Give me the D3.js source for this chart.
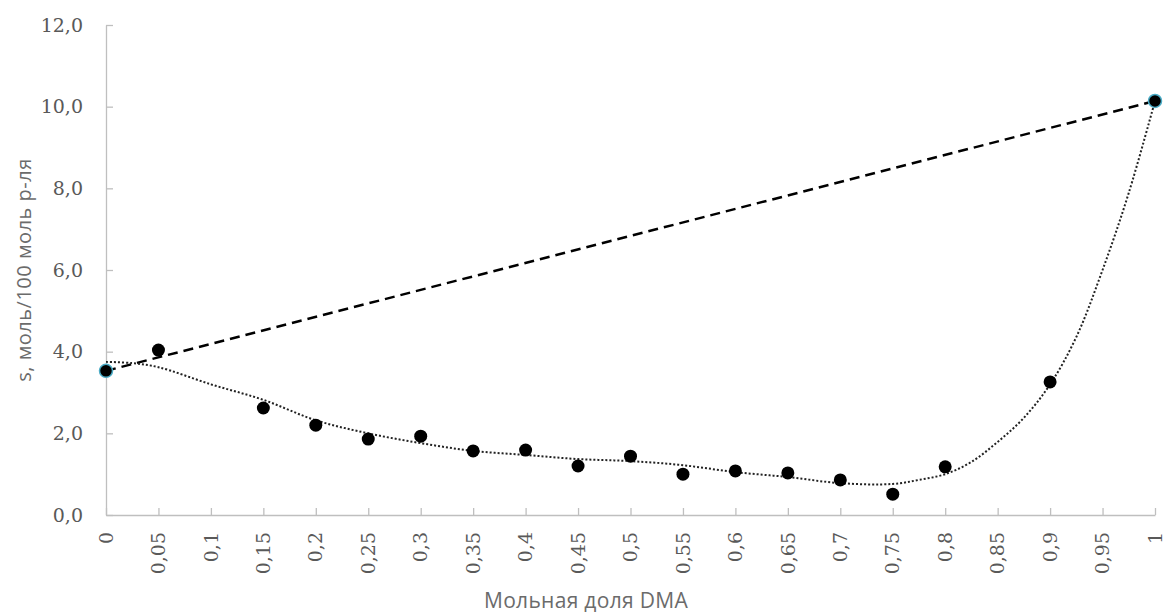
<!DOCTYPE html>
<html>
<head>
<meta charset="utf-8">
<script src="https://d3js.org/d3.v7.min.js"></script>
<style>
 body { margin: 0; background: #fff; }
</style>
</head>
<body>
<div id="grafico"></div>
<script>
// data
var xPoints = [0.05, 0.15, 0.2, 0.25, 0.3, 0.35, 0.4, 0.45, 0.5, 0.55, 0.6, 0.65, 0.7, 0.75, 0.8, 0.9];
var yPoints = [4.04, 2.62, 2.20, 1.86, 1.93, 1.57, 1.59, 1.20, 1.44, 1.00, 1.08, 1.03, 0.86, 0.51, 1.18, 3.26];

// pure components (end points)
var xEnds = [0, 1];
var yEnds = [3.53, 10.14];

// dotted trend line
var trendX = [0, 0.025, 0.05, 0.1, 0.15, 0.2, 0.25, 0.3, 0.35, 0.4, 0.45, 0.5, 0.55, 0.6, 0.65, 0.7, 0.75, 0.775, 0.8, 0.825, 0.85, 0.875, 0.9, 0.925, 0.95, 0.975, 1];
var trendY = [3.75, 3.72, 3.62, 3.2, 2.82, 2.32, 2.0, 1.76, 1.57, 1.47, 1.37, 1.32, 1.22, 1.05, 0.93, 0.78, 0.76, 0.86, 1.0, 1.3, 1.79, 2.38, 3.2, 4.36, 6.0, 7.89, 10.14];

var xTicks = [0, 0.05, 0.1, 0.15, 0.2, 0.25, 0.3, 0.35, 0.4, 0.45, 0.5, 0.55, 0.6, 0.65, 0.7, 0.75, 0.8, 0.85, 0.9, 0.95, 1];
var yTicks = [0, 2, 4, 6, 8, 10, 12];

var margin = {top: 25, right: 10, bottom: 100, left: 106},
 width = 1155 - margin.left,
 height = 515 - margin.top;

var svg = d3.select("#grafico")
.append("svg")
 .attr("width", 1165)
 .attr("height", 615)
.append("g")
 .attr("transform", "translate(" + margin.left + "," + margin.top + ")");

var x = d3.scaleLinear().domain([0, 1]).range([0, width]);
var y = d3.scaleLinear().domain([0, 12]).range([height, 0]);

var fmt = function(d) { return String(d).replace(".", ","); };

// X axis, ticks inside
var xAxis = svg.append("g")
  .attr("transform", "translate(0," + height + ")")
  .call(d3.axisTop(x).tickValues(xTicks).tickSize(7).tickSizeOuter(0).tickFormat(""));
xAxis.selectAll("path, line").attr("stroke", "#bfbfbf").attr("stroke-width", 1.3);

svg.append("g")
  .selectAll("text")
  .data(xTicks)
  .enter()
  .append("text")
    .attr("transform", function(d) { return "translate(" + x(d) + "," + (height + 17) + ") rotate(-90)"; })
    .attr("dy", "0.35em")
    .style("text-anchor", "end")
    .style("font-family", "DejaVu Serif")
    .style("font-size", "19px")
    .style("fill", "#595959")
    .text(fmt);

// Y axis, ticks inside
var yAxis = svg.append("g")
  .call(d3.axisRight(y).tickValues(yTicks).tickSize(7).tickSizeOuter(0).tickFormat(""));
yAxis.selectAll("path, line").attr("stroke", "#bfbfbf").attr("stroke-width", 1.3);

svg.append("g")
  .selectAll("text")
  .data(yTicks)
  .enter()
  .append("text")
    .attr("x", -23)
    .attr("y", function(d) { return y(d); })
    .attr("dy", "0.35em")
    .style("text-anchor", "end")
    .style("font-family", "DejaVu Serif")
    .style("font-size", "19px")
    .style("fill", "#595959")
    .text(function(d) { return d3.format(".1f")(d).replace(".", ","); });

// axis titles
svg.append("text")
  .attr("x", 586 - margin.left)
  .attr("y", 608 - margin.top)
  .style("text-anchor", "middle")
  .style("font-family", "Open Sans")
  .style("font-size", "21px")
  .style("letter-spacing", "0.3px")
  .style("fill", "#6b6b6b")
  .text("Мольная доля DMA");

svg.append("text")
  .attr("transform", "rotate(-90)")
  .attr("x", -(270 - margin.top))
  .attr("y", 31 - margin.left)
  .style("text-anchor", "middle")
  .style("font-family", "Open Sans")
  .style("font-size", "20px")
  .style("letter-spacing", "0.5px")
  .style("fill", "#6b6b6b")
  .text("s, моль/100 моль р-ля");

// ideal line between the pure components
svg.append("path")
  .datum(d3.zip(xEnds, yEnds))
  .attr("fill", "none")
  .attr("stroke", "#000")
  .attr("stroke-width", 2.5)
  .attr("stroke-dasharray", "10,6")
  .attr("d", d3.line()
    .x(function(d) { return x(d[0]); })
    .y(function(d) { return y(d[1]); }));

// trend line
svg.append("path")
  .datum(d3.zip(trendX, trendY))
  .attr("fill", "none")
  .attr("stroke", "#222")
  .attr("stroke-width", 2)
  .attr("stroke-dasharray", "2,2")
  .attr("d", d3.line()
    .curve(d3.curveCatmullRom)
    .x(function(d) { return x(d[0]); })
    .y(function(d) { return y(d[1]); }));

// points
svg.append("g")
  .selectAll("circle")
  .data(d3.zip(xPoints, yPoints))
  .enter()
  .append("circle")
    .attr("cx", function(d) { return x(d[0]); })
    .attr("cy", function(d) { return y(d[1]); })
    .attr("r", 6.5)
    .style("fill", "#000");

svg.append("g")
  .selectAll("circle")
  .data(d3.zip(xEnds, yEnds))
  .enter()
  .append("circle")
    .attr("cx", function(d) { return x(d[0]); })
    .attr("cy", function(d) { return y(d[1]); })
    .attr("r", 6.5)
    .style("fill", "#000")
    .style("stroke", "#4bacc6")
    .style("stroke-width", 1.5);
</script>
</body>
</html>
